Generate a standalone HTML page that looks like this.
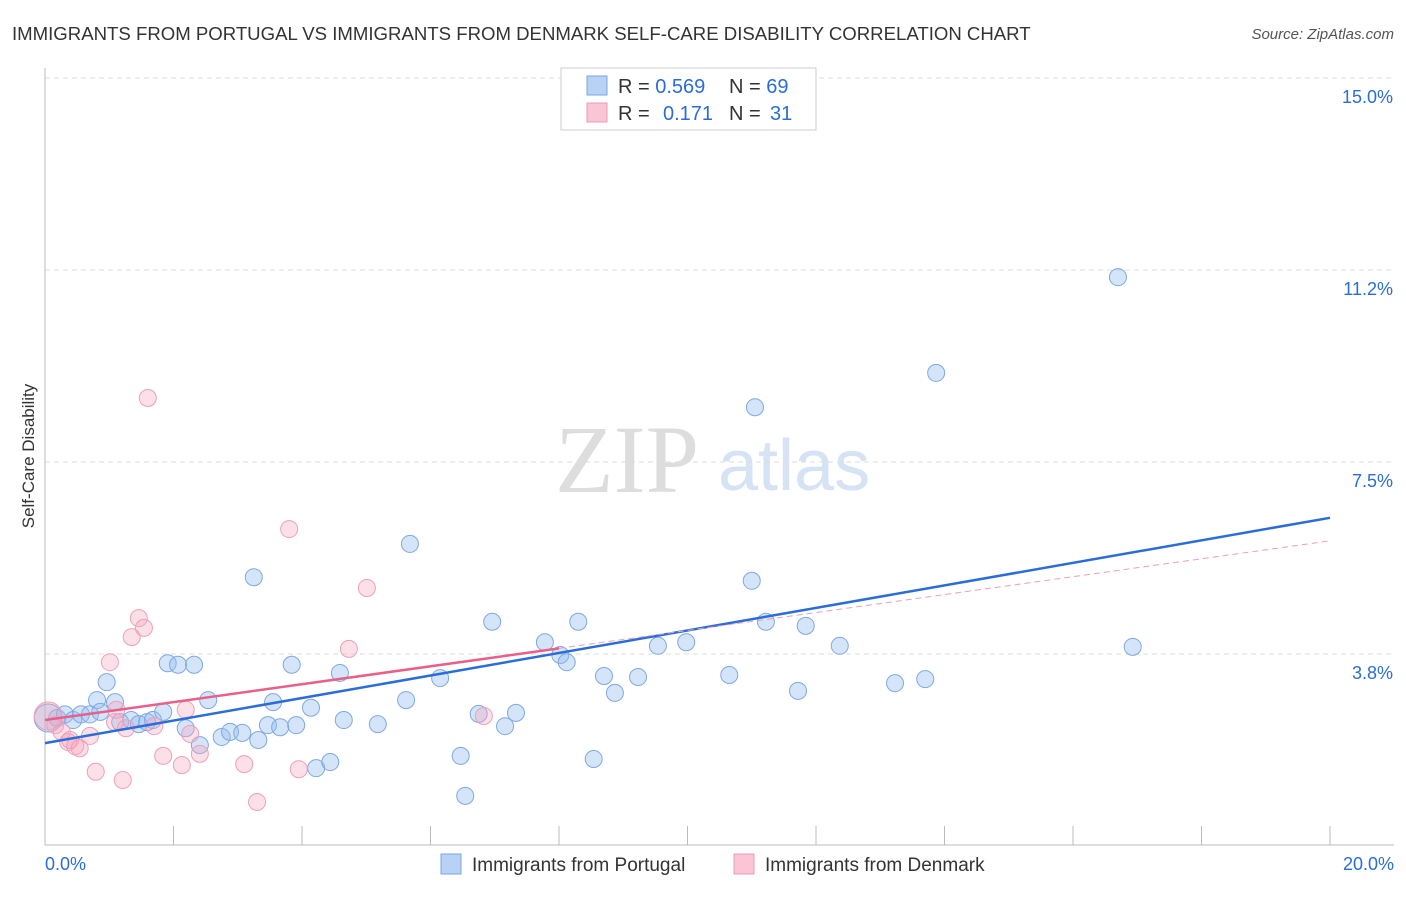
<!DOCTYPE html>
<html><head><meta charset="utf-8"><style>
body{margin:0;background:#fff;font-family:"Liberation Sans",sans-serif}
</style></head><body>
<svg id="chart" width="1406" height="892" xmlns="http://www.w3.org/2000/svg" font-family="Liberation Sans, sans-serif">
<text x="12" y="40" font-size="18.6" fill="#333">IMMIGRANTS FROM PORTUGAL VS IMMIGRANTS FROM DENMARK SELF-CARE DISABILITY CORRELATION CHART</text>
<text x="1394" y="39" font-size="15" fill="#555" font-style="italic" text-anchor="end">Source: ZipAtlas.com</text>
<text x="555" y="492" font-size="96" fill="#ddd" font-family="Liberation Serif, serif">ZIP</text>
<text x="718" y="490" font-size="72" fill="#d5e3f5">atlas</text>
<text transform="translate(34,456) rotate(-90)" font-size="17" fill="#333" text-anchor="middle">Self-Care Disability</text>
<g id="grid"></g><g id="pts"></g><g id="lines"></g>
<g>
<rect x="561" y="68" width="255" height="62" fill="#fff" stroke="#ccc"/>
<rect x="587" y="76" width="20" height="19" fill="#b7d2f5" stroke="#7aa6e0"/>
<rect x="587" y="103" width="20" height="19" fill="#fac5d5" stroke="#eb9bb5"/>
<text x="618" y="93" font-size="20" fill="#333">R = <tspan fill="#2a6dd9">0.569</tspan></text>
<text x="729" y="93" font-size="20" fill="#333">N = <tspan fill="#2a6dd9">69</tspan></text>
<text x="618" y="120" font-size="20" fill="#333">R =</text>
<text x="663" y="120" font-size="20" fill="#2a6dd9">0.171</text>
<text x="729" y="120" font-size="20" fill="#333">N =</text>
<text x="770" y="120" font-size="20" fill="#2a6dd9">31</text>
</g>
<g>
<rect x="441" y="854" width="20" height="20" fill="#b7d2f5" stroke="#7aa6e0"/>
<text x="472" y="871" font-size="19" fill="#333">Immigrants from Portugal</text>
<rect x="734" y="854" width="20" height="20" fill="#fac5d5" stroke="#eb9bb5"/>
<text x="765" y="871" font-size="19" fill="#333">Immigrants from Denmark</text>
</g>
</svg>
<script>
const yTicks=[3.75,7.5,11.25,15];
const yTickLabels=["3.8%","7.5%","11.2%","15.0%"];
const xTickCount=10;
const xLabels=["0.0%","20.0%"];
const blueX=[0.05,0.19,0.31,0.44,0.56,0.70,0.81,0.86,0.96,1.09,1.17,1.34,1.46,1.59,1.68,1.84,1.91,2.07,2.32,2.19,2.41,2.54,2.75,2.88,3.07,3.32,3.25,3.47,3.55,3.66,3.84,3.91,4.14,4.22,4.44,4.59,4.65,5.18,5.62,5.68,6.15,6.47,6.54,6.75,6.96,7.16,7.33,7.78,8.02,8.12,8.30,8.54,8.70,8.87,9.23,9.54,9.98,10.65,11.00,11.05,11.22,11.72,11.84,12.37,13.23,13.70,13.87,16.70,16.93];
const blueY=[2.50,2.50,2.57,2.46,2.57,2.57,2.85,2.62,3.20,2.81,2.42,2.46,2.38,2.42,2.46,2.62,3.57,3.54,3.54,2.30,1.97,2.85,2.13,2.23,2.21,2.07,5.25,2.36,2.81,2.32,3.54,2.36,2.70,1.52,1.64,3.38,2.46,2.38,2.85,5.90,3.28,1.76,0.98,2.58,4.38,2.34,2.60,3.98,3.73,3.59,4.38,1.70,3.32,2.99,3.30,3.91,3.98,3.34,5.18,8.57,4.38,3.03,4.30,3.91,3.18,3.26,9.24,11.11,3.89];
const pinkX=[0.05,0.16,0.26,0.36,0.39,0.47,0.54,0.70,0.79,1.01,1.09,1.11,1.21,1.26,1.35,1.46,1.54,1.60,1.70,1.84,2.13,2.19,2.26,2.41,3.10,3.30,3.80,3.95,4.73,5.01,6.83];
const pinkY=[2.54,2.36,2.23,2.03,2.07,1.95,1.91,2.15,1.45,3.59,2.42,2.66,1.29,2.30,4.08,4.45,4.26,8.75,2.34,1.76,1.58,2.66,2.19,1.80,1.60,0.86,6.19,1.50,3.85,5.04,2.54];
const blueTrend=[2.01,6.41];
const pinkTrend=[2.46,5.96];
const NS="http://www.w3.org/2000/svg";
const X=v=>45+v*64.25, Y=v=>846-v*51.2;
function mk(tag,attrs,parent){const e=document.createElementNS(NS,tag);for(const k in attrs)e.setAttribute(k,attrs[k]);parent.appendChild(e);return e;}
const grid=document.getElementById('grid'),pts=document.getElementById('pts'),lines=document.getElementById('lines');
yTicks.forEach((t,i)=>{
 const l=mk('line',{x1:45,x2:1394,y1:Y(t),y2:Y(t),stroke:'#ddd','stroke-dasharray':'5,4'},grid);
 
 
 const tx=mk('text',{x:1393,y:Y(t)+25,'font-size':18,fill:'#2a6dd9','text-anchor':'end'},grid);tx.textContent=yTickLabels[i];
 
 
});
const ax=mk('line',{x1:45,x2:45,y1:68,y2:845,stroke:'#bbb'},grid);


const bx=mk('line',{x1:45,x2:1394,y1:845,y2:845,stroke:'#bbb'},grid);


for(let i=1;i<=xTickCount;i++){const v=i*2;const t=mk('line',{x1:X(v),x2:X(v),y1:826,y2:845,stroke:'#bbb'},grid);
 
 }
[[0,'start',45],[20,'end',1394]].forEach((d,i)=>{const t=mk('text',{x:d[2],y:870,'font-size':18,fill:'#2a6dd9','text-anchor':d[1]},grid);t.textContent=xLabels[i];
 
 });
function dots(xs,ys,fill,stroke,name){xs.forEach((x,i)=>{const c=mk('circle',{cx:X(x),cy:Y(ys[i]),r:i===0?14:8.5,fill:fill,stroke:stroke,'stroke-width':1},pts);
 
 });}
dots(blueX,blueY,'rgba(147,190,240,0.4)','#7fa8e3','portugal-point');
dots(pinkX,pinkY,'rgba(245,165,190,0.35)','#eda0b9','denmark-point');
const bl=mk('line',{x1:X(0),y1:Y(blueTrend[0]),x2:X(20),y2:Y(blueTrend[1]),stroke:'#2a6dd9','stroke-width':2.5},lines);


const px=8;const pm=pinkTrend[0]+(pinkTrend[1]-pinkTrend[0])*px/20;
const pl=mk('line',{x1:X(0),y1:Y(pinkTrend[0]),x2:X(px),y2:Y(pm),stroke:'#e8608a','stroke-width':2.5},lines);


const pd=mk('line',{x1:X(px),y1:Y(pm),x2:X(20),y2:Y(pinkTrend[1]),stroke:'#e8a0b8','stroke-width':1,'stroke-dasharray':'6,4'},lines);


</script>
</body></html>
